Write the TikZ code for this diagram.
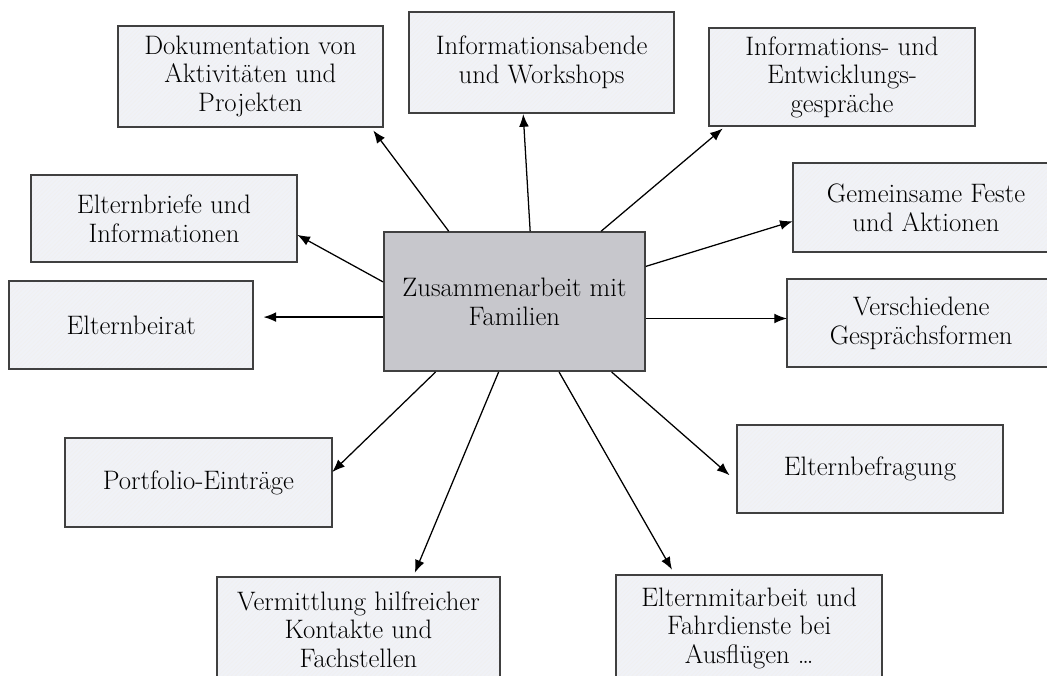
\documentclass[tikz,border=0pt]{standalone}
\usepackage{tikz}
\usetikzlibrary{calc}
\usetikzlibrary{arrows.meta}
\usetikzlibrary{patterns}
\usepackage{xcolor}
\definecolor{bluegray}{rgb}{0.94,0.95,0.97}
\definecolor{midgray}{rgb}{0.78,0.78,0.80}
\tikzset{
  topicbox/.style={fill=bluegray,
    postaction={pattern=north east lines, pattern color=black!6},
    postaction={draw=black!75, line width=1.1pt},
    minimum width=6.65cm, minimum height=2.2cm, align=center,
    font=\fontsize{19}{20.5}\selectfont, inner sep=2pt},
  mainbox/.style={draw=black!75, line width=1.1pt, fill=midgray,
    align=center, font=\fontsize{19}{20.5}\selectfont, inner sep=2pt},
  link/.style={line width=0.9pt, -{Latex[length=9pt,width=7pt]}},
}

\begin{document}
\begin{tikzpicture}
\coordinate (C) at (0, 0);
% page frame, boxes on the right and at the bottom run off it
\useasboundingbox ($(C)+(0,0)$) rectangle ($(C)+(26.175,-16.875)$);
\clip ($(C)+(0,0)$) rectangle ($(C)+(26.175,-16.875)$);

%%%%%%%%%%%%%%%%%%%%%%%%%%%%%%%%%%%%%%%%%%%%%%%%%%%%%%%%%%%%%% Centre
\node[mainbox, minimum width=6.53cm, minimum height=3.48cm] (zentrum)
  at ($(C)+(12.86,-7.54)$) {Zusammenarbeit mit\\Familien};

%%%%%%%%%%%%%%%%%%%%%%%%%%%%%%%%%%%%%%%%%%%%%%%%%%%%%%%%%%%%%% Top row
\node[topicbox, minimum width=6.63cm, minimum height=2.53cm] (doku)
  at ($(C)+(6.26,-1.91)$) {Dokumentation von\\Aktivitäten und\\Projekten};
\node[topicbox, minimum width=6.63cm, minimum height=2.53cm] (abende)
  at ($(C)+(13.54,-1.56)$) {Informationsabende\\und Workshops};
\node[topicbox, minimum height=2.45cm] (entw)
  at ($(C)+(21.05,-1.93)$) {Informations- und\\Entwicklungs-\\gespräche};

%%%%%%%%%%%%%%%%%%%%%%%%%%%%%%%%%%%%%%%%%%%%%%%%%%%%%%%%%%%%%% Sides
\node[topicbox, minimum height=2.18cm] (briefe)
  at ($(C)+(4.10,-5.46)$) {Elternbriefe und\\Informationen};
\node[topicbox, minimum width=6.1cm] (beirat)
  at ($(C)+(3.28,-8.13)$) {Elternbeirat};
\node[topicbox, minimum height=2.23cm] (feste)
  at ($(C)+(23.15,-5.19)$) {Gemeinsame Feste\\und Aktionen};
\node[topicbox, minimum width=6.7cm] (formen)
  at ($(C)+(23.03,-8.08)$) {Verschiedene\\Gesprächsformen};

%%%%%%%%%%%%%%%%%%%%%%%%%%%%%%%%%%%%%%%%%%%%%%%%%%%%%%%%%%%%%% Bottom
\node[topicbox, minimum width=6.68cm, minimum height=2.23cm] (portfolio)
  at ($(C)+(4.96,-12.06)$) {Portfolio-Einträge};
\node[topicbox] (befragung)
  at ($(C)+(21.75,-11.73)$) {Elternbefragung};
\node[topicbox, minimum width=7.08cm, minimum height=2.63cm] (kontakte)
  at ($(C)+(8.96,-15.74)$) {Vermittlung hilfreicher\\Kontakte und\\Fachstellen};
\node[topicbox, minimum height=2.68cm] (mitarbeit)
  at ($(C)+(18.73,-15.71)$) {Elternmitarbeit und\\Fahrdienste bei\\Ausflügen \dots};

%%%%%%%%%%%%%%%%%%%%%%%%%%%%%%%%%%%%%%%%%%%%%%%%%%%%%%%%%%%%%% Arrows
\draw[link] ($(zentrum.north west)!0.25!(zentrum.north east)$) -- ($(doku.south east)+(-0.25,-0.08)$);
\draw[link] ($(zentrum.north west)!0.56!(zentrum.north east)$) -- ($(abende.south)+(-0.46,-0.02)$);
\draw[link] ($(zentrum.north west)!0.83!(zentrum.north east)$) -- ($(entw.south west)+(0.35,-0.05)$);

\draw[link] ($(zentrum.north east)!0.25!(zentrum.south east)$) -- ($(feste.west)+(0,-0.34)$);
\coordinate (sf) at ($(zentrum.north east)!0.62!(zentrum.south east)$);
\draw[link] (sf) -- (sf -| formen.west);

\draw[link] ($(zentrum.north west)!0.36!(zentrum.south west)$) -- ($(briefe.east)+(0,-0.41)$);
\coordinate (sb) at ($(zentrum.north west)!0.61!(zentrum.south west)$);
\draw[link] (sb) -- ($(sb -| beirat.east)+(0.25,0)$);

\draw[link] ($(zentrum.south west)!0.2!(zentrum.south east)$) -- ($(portfolio.east)+(0,0.26)$);
\draw[link] ($(zentrum.south west)!0.44!(zentrum.south east)$) -- ($(kontakte.north)+(1.41,0.1)$);
\draw[link] ($(zentrum.south west)!0.67!(zentrum.south east)$) -- ($(mitarbeit.north)+(-1.93,0.12)$);
\draw[link] ($(zentrum.south west)!0.87!(zentrum.south east)$) -- ($(befragung.west)+(-0.18,-0.15)$);

\end{tikzpicture}
\end{document}
